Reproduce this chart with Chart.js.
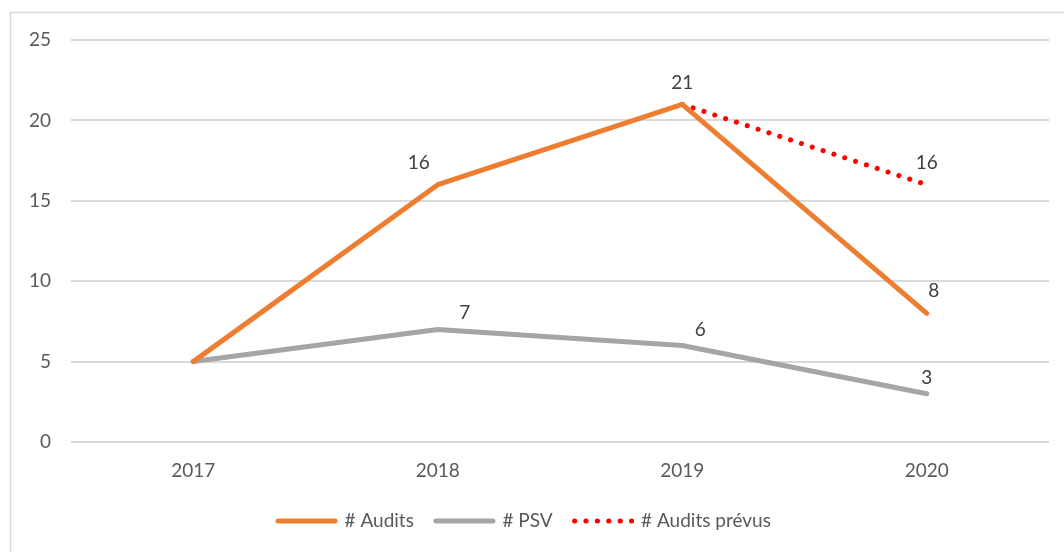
<!DOCTYPE html>
<html>
<head>
<meta charset="utf-8">
<script src="https://cdn.jsdelivr.net/npm/chart.js@4/dist/chart.umd.min.js"></script>
<style>
  html, body { margin: 0; padding: 0; background: #fff; }
  #wrap { position: relative; width: 1064px; height: 552px; }
</style>
</head>
<body>
<div id="wrap"><canvas id="c" width="1064" height="552"></canvas></div>
<script>
const categories = ['2017', '2018', '2019', '2020'];
const auditsValues = [5, 16, 21, 8];
const psvValues = [5, 7, 6, 3];
const auditsPrevusValues = [null, null, 21, 16];
const seriesNames = ['# Audits', '# PSV', '# Audits prévus'];
const yTicks = [0, 5, 10, 15, 20, 25];

const FONT = 'Lato, "Open Sans", sans-serif';

// which points get a value label, and where relative to the point
const labelPlacement = [
  {1: [-19, -22], 2: [0, -21], 3: [7, -22]},
  {1: [27, -17], 2: [18, -16], 3: [0, -16]},
  {3: [0, -22]}
];

const frame = {
  id: 'frame',
  beforeDraw(chart) {
    const ctx = chart.ctx;
    ctx.save();
    ctx.fillStyle = '#fff';
    ctx.fillRect(0, 0, chart.width, chart.height);
    ctx.strokeStyle = '#d9d9d9';
    ctx.lineWidth = 1.5;
    ctx.strokeRect(10.5, 12.5, 1200, 700);
    ctx.restore();
  }
};

const valueLabels = {
  id: 'valueLabels',
  afterDatasetsDraw(chart) {
    const ctx = chart.ctx;
    ctx.save();
    ctx.font = '19px ' + FONT;
    ctx.fillStyle = '#404040';
    ctx.textAlign = 'center';
    ctx.textBaseline = 'middle';
    chart.data.datasets.forEach((ds, di) => {
      const meta = chart.getDatasetMeta(di);
      const place = labelPlacement[di] || {};
      meta.data.forEach((pt, i) => {
        const v = ds.data[i];
        if (v === null || v === undefined || !place[i]) return;
        const [dx, dy] = place[i];
        ctx.fillText(String(v), pt.x + dx, pt.y + dy);
      });
    });
    ctx.restore();
  }
};

new Chart(document.getElementById('c'), {
  type: 'line',
  data: {
    labels: categories,
    datasets: [
      {
        label: seriesNames[0],
        data: auditsValues,
        borderColor: '#ED7D31',
        backgroundColor: '#ED7D31',
        borderWidth: 5,
        borderCapStyle: 'round',
        borderJoinStyle: 'round',
        pointRadius: 0,
        tension: 0
      },
      {
        label: seriesNames[1],
        data: psvValues,
        borderColor: '#A5A5A5',
        backgroundColor: '#A5A5A5',
        borderWidth: 5,
        borderCapStyle: 'round',
        borderJoinStyle: 'round',
        pointRadius: 0,
        tension: 0
      },
      {
        label: seriesNames[2],
        data: auditsPrevusValues,
        borderColor: '#FF0000',
        backgroundColor: '#FF0000',
        borderWidth: 5,
        borderCapStyle: 'round',
        borderJoinStyle: 'round',
        borderDash: [0.1, 11.3],
        pointRadius: 0,
        tension: 0,
        spanGaps: false
      }
    ]
  },
  options: {
    responsive: false,
    animation: false,
    devicePixelRatio: 1,
    layout: { padding: { top: 40, left: 0, right: 15, bottom: 11.5 } },
    plugins: {
      tooltip: { enabled: false },
      legend: {
        position: 'bottom',
        labels: {
          usePointStyle: false,
          boxWidth: 57,
          boxHeight: 0,
          padding: 22,
          color: '#595959',
          font: { family: FONT, size: 19 }
        }
      }
    },
    scales: {
      x: {
        offset: true,
        grid: { display: false, drawTicks: false },
        border: { display: false },
        ticks: { color: '#595959', padding: 17, font: { family: FONT, size: 19 } },
        afterFit(scale) { scale.height = 47.5; }
      },
      y: {
        min: 0,
        max: 25,
        afterBuildTicks(scale) { scale.ticks = yTicks.map(v => ({ value: v })); },
        grid: { color: '#d9d9d9', lineWidth: 2, drawTicks: false },
        border: { display: false },
        ticks: { color: '#595959', padding: 20, font: { family: FONT, size: 19 } },
        afterFit(scale) { scale.width = 71; }
      }
    }
  },
  plugins: [frame, valueLabels]
});
</script>
</body>
</html>
